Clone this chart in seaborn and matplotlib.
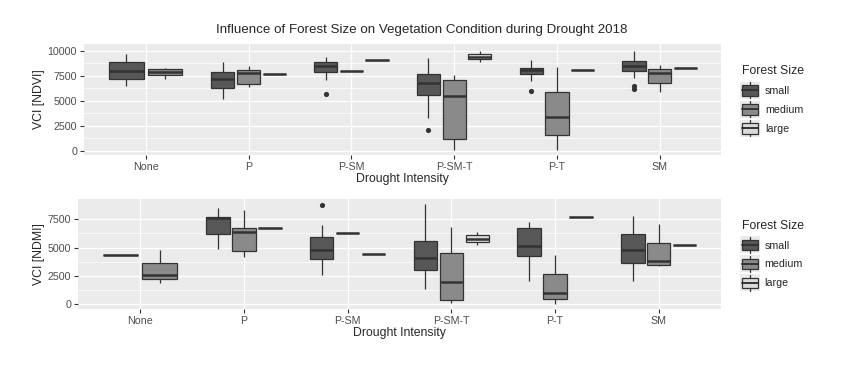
import matplotlib.pyplot as plt
import numpy as np
import pandas as pd
import seaborn as sns
from matplotlib.legend_handler import HandlerPatch
from matplotlib.lines import Line2D
from matplotlib.patches import Patch, Rectangle

# === Data ===
CATEGORIES = ["None", "P", "P-SM", "P-SM-T", "P-T", "SM"]
SIZES = ["small", "medium", "large"]

# five-number summaries per category: lower whisker, q1, median, q3, upper whisker
NDVI_SMALL = [[6450, 7150, 7950, 8840, 9640], [5200, 6300, 7170, 7870, 8840],
              [7070, 7870, 8440, 8900, 9400], [3300, 5600, 6800, 7640, 9270],
              [7000, 7670, 8070, 8300, 9070], [7240, 7940, 8500, 9000, 10000]]
NDVI_MEDIUM = [[7200, 7600, 7870, 8140, 8240], [6400, 6670, 7740, 8040, 8500],
               [7940, 7940, 7940, 7940, 7940], [100, 1200, 5500, 7100, 7600],
               [100, 1600, 3340, 5840, 8340], [5900, 6740, 7740, 8140, 8540]]
NDVI_LARGE = [None, [7670] * 5, [9100] * 5, [8900, 9140, 9400, 9670, 10000],
              [8100] * 5, [8270] * 5]
NDVI_OUTLIERS = [("P-SM", "small", 5700), ("P-SM-T", "small", 2040),
                 ("P-T", "small", 6000), ("SM", "small", 6500), ("SM", "small", 6200)]

NDMI_SMALL = [[4380] * 5, [4910, 6240, 7650, 7700, 8500],
              [2590, 4030, 4760, 5910, 7000], [1320, 2970, 4090, 5620, 8820],
              [2060, 4260, 5150, 6740, 7290], [2060, 3650, 4760, 6240, 7760]]
NDMI_MEDIUM = [[1880, 2200, 2590, 3650, 4820], [4180, 4710, 6410, 6740, 8290],
               [6320] * 5, [90, 320, 1910, 4560, 6820],
               [30, 410, 970, 2680, 4350], [3380, 3500, 3790, 5380, 7060]]
NDMI_LARGE = [None, [6740] * 5, [4410] * 5, [5200, 5470, 5790, 6090, 6380],
              [7710] * 5, [5210] * 5]
NDMI_OUTLIERS = [("P-SM", "small", 8790)]

COLORS = {"small": "#575757", "medium": "#8a8a8a", "large": "#dadada"}
EDGE = "#333333"

# === Plot style ===
sns.set_theme(style="darkgrid", rc={
    "axes.facecolor": "#ebebeb",
    "grid.color": "white",
    "xtick.bottom": True,
    "ytick.left": True,
    "xtick.major.size": 3,
    "ytick.major.size": 3,
    "xtick.major.width": 0.8,
    "ytick.major.width": 0.8,
    "xtick.color": EDGE,
    "ytick.color": EDGE,
    "xtick.labelcolor": "#4d4d4d",
    "ytick.labelcolor": "#4d4d4d",
    "xtick.major.pad": 2,
    "ytick.major.pad": 2,
})
plt.rcParams["font.family"] = ["Liberation Sans", "DejaVu Sans"]


class BoxKey(HandlerPatch):
    """Legend key drawn like a small boxplot on a grey key background."""

    def create_artists(self, legend, orig, xd, yd, w, h, fontsize, trans):
        x0, y0 = -xd, -yd
        cx = x0 + w / 2
        bg = Rectangle((x0 - 1, y0 - h * 0.3), w + 2, h * 1.6,
                       facecolor="#ebebeb", edgecolor="none", transform=trans)
        box = Rectangle((x0, y0), w, h, facecolor=orig.get_facecolor(),
                        edgecolor=EDGE, linewidth=0.9, transform=trans)
        med = Line2D([x0, x0 + w], [y0 + h / 2] * 2, color=EDGE, linewidth=1.4,
                     transform=trans)
        up = Line2D([cx, cx], [y0 + h, y0 + h * 1.25], color=EDGE, linewidth=0.9,
                    transform=trans)
        lo = Line2D([cx, cx], [y0, y0 - h * 0.25], color=EDGE, linewidth=0.9,
                    transform=trans)
        return [bg, box, med, up, lo]


def long_table(small, medium, large):
    rows = []
    for size, series in zip(SIZES, [small, medium, large]):
        for cat, stats in zip(CATEGORIES, series):
            if stats is None:
                continue
            for v in stats:
                rows.append({"cat": cat, "size": size, "value": v})
    return pd.DataFrame(rows)


def dodge_positions(df, present):
    """ggplot-like dodge: the groups present in a category share 0.75 width."""
    xs = []
    for cat, size in zip(df["cat"], df["size"]):
        groups = present[cat]
        slot = 0.75 / len(groups)
        xs.append(CATEGORIES.index(cat) + (groups.index(size) - (len(groups) - 1) / 2) * slot)
    return xs


def draw_panel(ax, df, outliers, ylabel, yticks, ylim):
    present = {c: [s for s in SIZES if s in set(df.loc[df["cat"] == c, "size"])]
               for c in CATEGORIES}
    df = df.copy()
    df["x"] = dodge_positions(df, present)
    for cat in CATEGORIES:
        sub = df[df["cat"] == cat]
        sns.boxplot(data=sub, x="x", y="value", hue="size", hue_order=SIZES,
                    palette=COLORS, native_scale=True, dodge=False, width=0.9,
                    whis=np.inf, showfliers=False, linewidth=0.9, linecolor=EDGE,
                    medianprops={"linewidth": 1.8}, capprops={"visible": False},
                    legend=False, ax=ax)
    out = pd.DataFrame(outliers, columns=["cat", "size", "value"])
    out["x"] = dodge_positions(out, present)
    sns.scatterplot(data=out, x="x", y="value", color=EDGE, s=14, linewidth=0, ax=ax)

    ax.set_xlim(-0.6, len(CATEGORIES) - 0.4)
    ax.set_xticks(range(len(CATEGORIES)))
    ax.set_xticklabels(CATEGORIES, fontsize=7.7)
    ax.set_ylim(*ylim)
    ax.set_yticks(yticks)
    ax.set_yticklabels([str(t) for t in yticks], fontsize=7.7)
    ax.set_yticks([t + 1250 for t in yticks[:-1]], minor=True)
    ax.tick_params(which="minor", length=0)
    ax.grid(which="minor", axis="y", color="white", linewidth=0.5)
    ax.grid(which="major", color="white", linewidth=1.0)
    ax.set_xlabel("Drought Intensity", fontsize=8.8, labelpad=1)
    ax.set_ylabel(ylabel, fontsize=8.8, labelpad=2)
    for spine in ax.spines.values():
        spine.set_visible(False)

    handles = [Patch(facecolor=COLORS[s], edgecolor=EDGE, linewidth=0.9) for s in SIZES]
    leg = ax.legend(handles, SIZES, title="Forest Size", loc="center left",
                    bbox_to_anchor=(1.017, 0.5), frameon=False, fontsize=7.7,
                    title_fontsize=8.8, handlelength=1.55, handleheight=1.15,
                    labelspacing=0.75, handletextpad=0.6,
                    handler_map={Patch: BoxKey()})
    leg._legend_box.align = "left"


def main():
    fig = plt.figure(figsize=(8.42, 3.71), dpi=100)
    ax_top = fig.add_axes([0.0998, 0.5822, 0.757, 0.2992])
    ax_bot = fig.add_axes([0.0926, 0.1671, 0.7637, 0.2965])

    ndvi = long_table(NDVI_SMALL, NDVI_MEDIUM, NDVI_LARGE)
    ndmi = long_table(NDMI_SMALL, NDMI_MEDIUM, NDMI_LARGE)

    draw_panel(ax_top, ndvi, NDVI_OUTLIERS, "VCI [NDVI]",
               [0, 2500, 5000, 7500, 10000], (-430, 10670))
    draw_panel(ax_bot, ndmi, NDMI_OUTLIERS, "VCI [NDMI]",
               [0, 2500, 5000, 7500], (-440, 9300))

    fig.text(0.501, 0.919, "Influence of Forest Size on Vegetation Condition during Drought 2018",
             ha="center", va="center", fontsize=9.6)
    fig.savefig("out.png", dpi=100)


if __name__ == "__main__":
    main()
